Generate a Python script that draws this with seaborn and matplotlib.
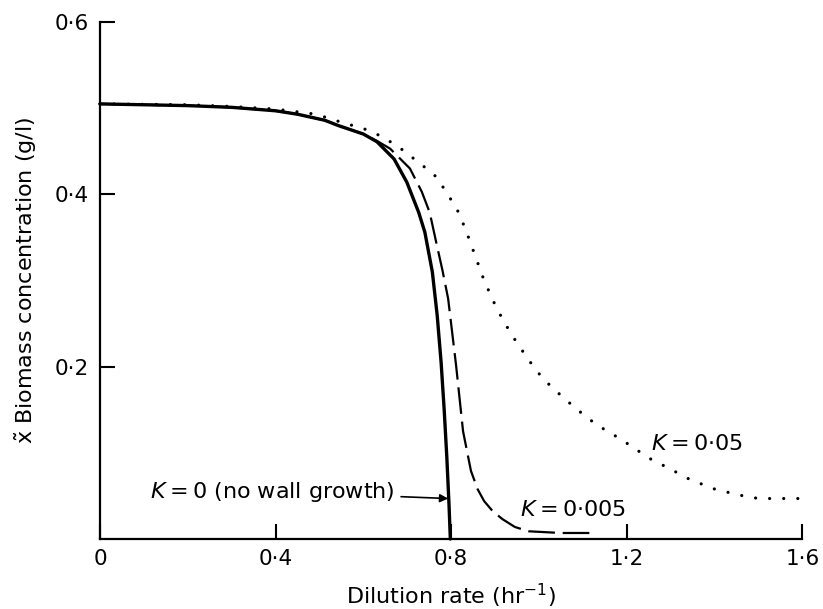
import matplotlib
matplotlib.use("Agg")
import matplotlib.pyplot as plt
import seaborn as sns

# K = 0 (no wall growth)
k0_x = [0.0, 0.2, 0.3, 0.4, 0.45, 0.512, 0.542, 0.6, 0.631, 0.67, 0.699, 0.726,
        0.74, 0.757, 0.768, 0.777, 0.784, 0.79, 0.795, 0.798]
k0_y = [0.505, 0.503, 0.501, 0.497, 0.493, 0.486, 0.480, 0.470, 0.461, 0.441, 0.414,
        0.379, 0.356, 0.31, 0.26, 0.205, 0.15, 0.095, 0.04, 0.0]

# K = 0.005
k005_x = [0.0, 0.2, 0.3, 0.4, 0.45, 0.512, 0.542, 0.6, 0.631, 0.661, 0.706, 0.733,
          0.751, 0.766, 0.78, 0.793, 0.811, 0.827, 0.845, 0.86, 0.875, 0.895, 0.917,
          0.945, 0.976, 1.05, 1.13]
k005_y = [0.505, 0.503, 0.501, 0.497, 0.493, 0.486, 0.480, 0.470, 0.462, 0.453, 0.430,
          0.403, 0.379, 0.344, 0.312, 0.279, 0.202, 0.125, 0.079, 0.058, 0.044, 0.032,
          0.023, 0.014, 0.009, 0.007, 0.007]

# K = 0.05
k05_x = [0.0, 0.2, 0.3, 0.4, 0.492, 0.548, 0.602, 0.643, 0.683, 0.726, 0.751, 0.771,
         0.784, 0.802, 0.818, 0.838, 0.875, 0.897, 0.917, 0.939, 0.976, 1.009, 1.047,
         1.085, 1.13, 1.186, 1.227, 1.25, 1.30, 1.344, 1.40, 1.456, 1.50, 1.59]
k05_y = [0.505, 0.504, 0.502, 0.499, 0.493, 0.484, 0.476, 0.467, 0.454, 0.437, 0.427,
         0.418, 0.406, 0.392, 0.378, 0.352, 0.300, 0.275, 0.255, 0.236, 0.208, 0.186,
         0.168, 0.151, 0.133, 0.116, 0.102, 0.094, 0.081, 0.069, 0.058, 0.051, 0.047,
         0.047]

x_ticks = [0, 0.4, 0.8, 1.2, 1.6]
x_tick_labels = ["0", "0·4", "0·8", "1·2", "1·6"]
y_ticks = [0.2, 0.4, 0.6]
y_tick_labels = ["0·2", "0·4", "0·6"]

sns.set_style("ticks")
plt.rcParams["font.family"] = ["DejaVu Sans"]
plt.rcParams["mathtext.fontset"] = "dejavusans"
plt.rcParams["text.color"] = "black"
plt.rcParams["axes.labelcolor"] = "black"

fig = plt.figure(figsize=(8.23, 6.09), dpi=100)
ax = fig.add_axes([0.1215, 0.1149, 0.8535, 0.8489])

sns.lineplot(x=k0_x, y=k0_y, sort=False, color="black", lw=2.4, ax=ax)
sns.lineplot(x=k005_x, y=k005_y, sort=False, color="black", lw=1.6,
             linestyle=(0, (12, 3.5)), ax=ax)
sns.lineplot(x=k05_x, y=k05_y, sort=False, color="black", lw=2.3,
             linestyle=(0, (0.01, 4.4)), dash_capstyle="round", ax=ax)

ax.set_xlim(0, 1.6)
ax.set_ylim(0, 0.6)
ax.set_xticks(x_ticks, x_tick_labels)
ax.set_yticks(y_ticks, y_tick_labels)
ax.tick_params(direction="in", length=11, width=1.5, labelsize=15.5, colors="black")
ax.tick_params(axis="x", pad=7)
ax.tick_params(axis="y", pad=8)
for side in ["top", "right"]:
    ax.spines[side].set_visible(False)
for side in ["left", "bottom"]:
    ax.spines[side].set_linewidth(1.6)
    ax.spines[side].set_color("black")

ax.set_xlabel("Dilution rate (hr$^{-1}$)", fontsize=16)
ax.xaxis.set_label_coords(0.5, -0.082)
ax.set_ylabel(r"$\tilde{\mathrm{x}}$ Biomass concentration (g/l)", fontsize=16, labelpad=11)

ax.annotate("$K$\u2009=\u20090 (no wall growth)", xy=(0.793, 0.047), xytext=(0.672, 0.055),
            ha="right", va="center", fontsize=16,
            arrowprops=dict(arrowstyle="-|>", color="black", lw=1.2,
                            shrinkA=2, shrinkB=0, mutation_scale=12))
ax.text(0.957, 0.034, "$K$\u2009=\u20090·005", fontsize=16, ha="left", va="center")
ax.text(1.256, 0.110, "$K$\u2009=\u20090·05", fontsize=16, ha="left", va="center")

for line in ax.lines:
    line.set_clip_on(False)

fig.savefig("out.png", dpi=100)
